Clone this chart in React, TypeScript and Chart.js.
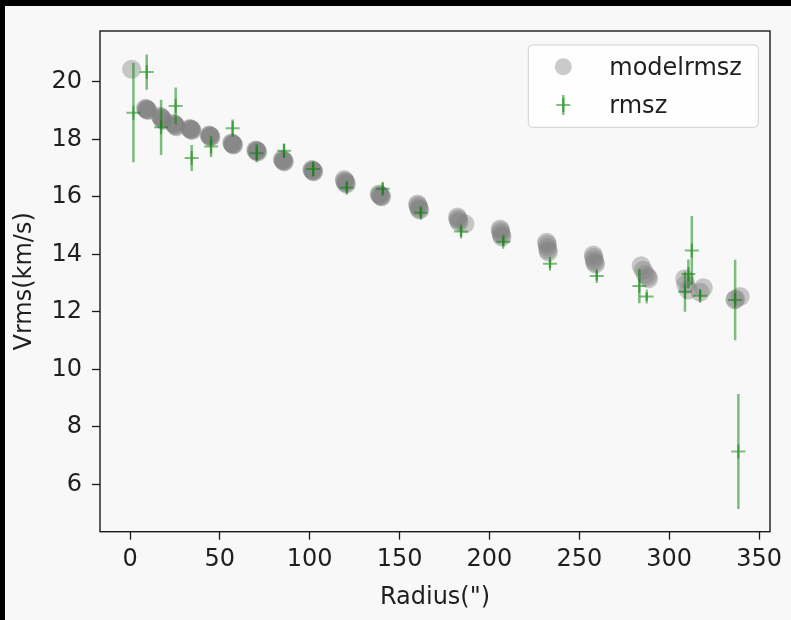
import React, { useEffect, useRef } from "react";
import { Chart, registerables } from "chart.js";

Chart.register(...registerables);

// ---- data ----
const modelX = [
  0.9,
  8.6, 9.0, 9.3, 9.7, 10.0,
  16.8, 17.2, 17.6, 18.0, 18.4,
  24.2, 24.6, 25.0, 25.4, 25.8,
  33.2, 33.6, 33.9, 34.2, 34.5,
  44.0, 44.3, 44.5, 44.8, 45.0,
  56.6, 56.9, 57.1, 57.4, 57.6,
  70.0, 70.3, 70.5, 70.8, 71.0,
  84.8, 85.1, 85.3, 85.6, 85.9,
  101.2, 101.5, 101.7, 102.0, 102.2,
  119.2, 119.5, 119.8, 120.1, 120.4,
  138.6, 139.0, 139.3, 139.7, 140.0,
  160.0, 160.3, 160.6, 160.9, 161.2,
  182.2, 182.5, 182.8, 183.1, 186.4,
  205.9, 206.2, 206.4, 206.7, 207.0,
  231.8, 232.1, 232.3, 232.5, 232.8,
  257.8, 258.1, 258.3, 258.6, 259.0,
  284.4, 285.6, 286.8, 288.0, 288.6,
  308.6, 309.2, 310.7, 317.2, 319.0,
  336.5, 337.0, 339.5,
];
const modelY = [
  20.44,
  19.08, 19.06, 19.04, 19.02, 19.0,
  18.8, 18.77, 18.74, 18.7, 18.66,
  18.56, 18.53, 18.5, 18.47, 18.44,
  18.38, 18.36, 18.35, 18.33, 18.31,
  18.15, 18.13, 18.12, 18.1, 18.08,
  17.88, 17.86, 17.84, 17.82, 17.8,
  17.63, 17.61, 17.6, 17.58, 17.56,
  17.3, 17.28, 17.26, 17.24, 17.22,
  16.95, 16.93, 16.91, 16.89, 16.87,
  16.6, 16.55, 16.52, 16.48, 16.45,
  16.1, 16.07, 16.04, 16.02, 16.0,
  15.75, 15.7, 15.64, 15.58, 15.54,
  15.3, 15.24, 15.18, 15.12, 15.06,
  14.88, 14.82, 14.74, 14.66, 14.6,
  14.42, 14.35, 14.25, 14.15, 14.08,
  13.98, 13.9, 13.8, 13.72, 13.66,
  13.6, 13.45, 13.3, 13.22, 13.15,
  13.15, 12.95, 12.76, 12.68, 12.84,
  12.42, 12.45, 12.53,
];

const rmszX = [
  1.9, 9.3, 17.3, 25.4, 34.3, 45.1, 57.1, 70.5, 85.7, 101.9, 120.6, 140.6,
  161.8, 184.2, 207.7, 233.7, 259.7, 283.4, 287.5, 308.8, 310.7, 312.6,
  317.2, 336.7, 338.5,
];
const rmszY = [
  18.93, 20.34, 18.42, 19.16, 17.35, 17.75, 18.39, 17.52, 17.6, 16.97, 16.32,
  16.28, 15.45, 14.79, 14.44, 13.67, 13.25, 12.9, 12.53, 12.7, 13.32, 14.13,
  12.56, 12.41, 7.14,
];
const rmszErr = [
  1.73, 0.61, 0.96, 0.64, 0.45, 0.36, 0.3, 0.32, 0.25, 0.26, 0.2, 0.2, 0.18,
  0.18, 0.17, 0.15, 0.17, 0.6, 0.15, 0.7, 0.5, 1.2, 0.2, 1.4, 2.0,
];

const xTicks = [0, 50, 100, 150, 200, 250, 300, 350];
const yTicks = [6, 8, 10, 12, 14, 16, 18, 20];
const X_MIN = -16.7;
const X_MAX = 356.1;
const Y_MIN = 4.35;
const Y_MAX = 21.77;

const seriesLabels = ["modelrmsz", "rmsz"];
const xLabel = 'Radius(")';
const yLabel = "Vrms(km/s)";

// ---- styles ----
const GREEN = "rgba(0,128,0,0.5)";
const GRAY = "rgba(128,128,128,0.42)";
const FONT = "'DejaVu Sans', sans-serif";
const TEXT = "#1f1f1f";
const FS = 24;

const errorBarPlugin = {
  id: "errorBars",
  beforeDatasetDraw(chart: any, args: any) {
    if (args.index !== 1) return;
    const { ctx, chartArea } = chart;
    const xs = chart.scales.x;
    const ys = chart.scales.y;
    ctx.save();
    ctx.beginPath();
    ctx.rect(chartArea.left, chartArea.top, chartArea.right - chartArea.left, chartArea.bottom - chartArea.top);
    ctx.clip();
    ctx.strokeStyle = GREEN;
    ctx.lineWidth = 2.5;
    for (let i = 0; i < rmszX.length; i++) {
      const px = xs.getPixelForValue(rmszX[i]);
      const p0 = ys.getPixelForValue(rmszY[i] - rmszErr[i]);
      const p1 = ys.getPixelForValue(rmszY[i] + rmszErr[i]);
      ctx.beginPath();
      ctx.moveTo(px, p0);
      ctx.lineTo(px, p1);
      ctx.stroke();
    }
    ctx.restore();
  },
};

const framePlugin = {
  id: "frame",
  afterDraw(chart: any) {
    const { ctx, chartArea } = chart;
    ctx.save();
    ctx.strokeStyle = "#1a1a1a";
    ctx.lineWidth = 1.4;
    ctx.strokeRect(chartArea.left, chartArea.top, chartArea.right - chartArea.left, chartArea.bottom - chartArea.top);
    ctx.restore();
  },
};

const legendPlugin = {
  id: "customLegend",
  afterDraw(chart: any) {
    const { ctx, chartArea } = chart;
    const w = 230;
    const h = 82.3;
    const left = chartArea.right - 11.7 - w;
    const top = chartArea.top + 14;
    ctx.save();
    ctx.beginPath();
    (ctx as any).roundRect(left, top, w, h, 4);
    ctx.fillStyle = "rgba(255,255,255,0.8)";
    ctx.fill();
    ctx.strokeStyle = "#d0d0d0";
    ctx.lineWidth = 1;
    ctx.stroke();

    const mx = left + 35;
    ctx.beginPath();
    ctx.arc(mx, top + 21.7, 8.5, 0, Math.PI * 2);
    ctx.fillStyle = GRAY;
    ctx.fill();
    ctx.strokeStyle = GREEN;
    ctx.lineWidth = 2.5;
    ctx.beginPath();
    ctx.moveTo(mx, top + 50);
    ctx.lineTo(mx, top + 70);
    ctx.stroke();
    ctx.lineWidth = 2;
    ctx.beginPath();
    ctx.moveTo(mx - 7, top + 60);
    ctx.lineTo(mx + 7, top + 60);
    ctx.moveTo(mx, top + 53);
    ctx.lineTo(mx, top + 67);
    ctx.stroke();

    ctx.fillStyle = TEXT;
    ctx.font = `${FS}px ${FONT}`;
    ctx.textAlign = "left";
    ctx.textBaseline = "alphabetic";
    ctx.fillText(chart.data.datasets[0].label, left + 81, top + 30);
    ctx.fillText(chart.data.datasets[1].label, left + 81, top + 67.7);
    ctx.restore();
  },
};

export default function App() {
  const ref = useRef<HTMLCanvasElement | null>(null);

  useEffect(() => {
    if (!ref.current) return;
    const modelData = modelX.map((x, i) => ({ x, y: modelY[i] }));
    const rmszData = rmszX.map((x, i) => ({ x, y: rmszY[i] }));
    const tickFont = { family: FONT, size: FS };
    const chart = new Chart(ref.current, {
      type: "scatter",
      data: {
        datasets: [
          {
            label: seriesLabels[0],
            data: modelData,
            pointRadius: 9.5,
            pointHoverRadius: 9.5,
            backgroundColor: GRAY,
            borderWidth: 0,
            pointStyle: "circle",
            order: 2,
          },
          {
            label: seriesLabels[1],
            data: rmszData,
            pointStyle: "cross",
            pointRadius: 7,
            pointHoverRadius: 7,
            borderColor: GREEN,
            backgroundColor: GREEN,
            borderWidth: 2,
            order: 1,
          },
        ],
      },
      options: {
        responsive: false,
        animation: false,
        events: [],
        layout: { padding: { left: 0, top: 25, right: 21, bottom: 0 } },
        plugins: {
          legend: { display: false },
          tooltip: { enabled: false },
        },
        scales: {
          x: {
            type: "linear",
            min: X_MIN,
            max: X_MAX,
            afterBuildTicks: (scale: any) => {
              scale.ticks = xTicks.map((v) => ({ value: v }));
            },
            afterFit: (scale: any) => {
              scale.height = 88.3;
            },
            border: { display: false },
            grid: {
              display: true,
              drawOnChartArea: false,
              drawTicks: true,
              tickLength: 8,
              tickColor: "#1a1a1a",
              tickWidth: 1.3,
            },
            ticks: { font: tickFont, color: TEXT, padding: 6, maxRotation: 0, autoSkip: false },
            title: {
              display: true,
              text: xLabel,
              font: tickFont,
              color: TEXT,
              padding: { top: 0, bottom: 7.6 },
            },
          },
          y: {
            type: "linear",
            min: Y_MIN,
            max: Y_MAX,
            afterBuildTicks: (scale: any) => {
              scale.ticks = yTicks.map((v) => ({ value: v }));
            },
            afterFit: (scale: any) => {
              scale.width = 95;
            },
            border: { display: false },
            grid: {
              display: true,
              drawOnChartArea: false,
              drawTicks: true,
              tickLength: 8,
              tickColor: "#1a1a1a",
              tickWidth: 1.3,
            },
            ticks: { font: tickFont, color: TEXT, padding: 10, autoSkip: false },
            title: {
              display: true,
              text: yLabel,
              font: tickFont,
              color: TEXT,
              padding: { top: 5.6, bottom: 0 },
            },
          },
        },
      },
      plugins: [errorBarPlugin, framePlugin, legendPlugin],
    } as any);
    return () => chart.destroy();
  }, []);

  return (
    <div
      style={{
        position: "fixed",
        left: 0,
        top: 0,
        width: 791,
        height: 620,
        background: "#000",
        overflow: "hidden",
      }}
    >
      <div
        style={{
          position: "absolute",
          left: 5,
          top: 6,
          width: 786,
          height: 614,
          background: "#f8f8f8",
        }}
      >
        <canvas ref={ref} width={786} height={614} style={{ display: "block" }} />
      </div>
    </div>
  );
}
